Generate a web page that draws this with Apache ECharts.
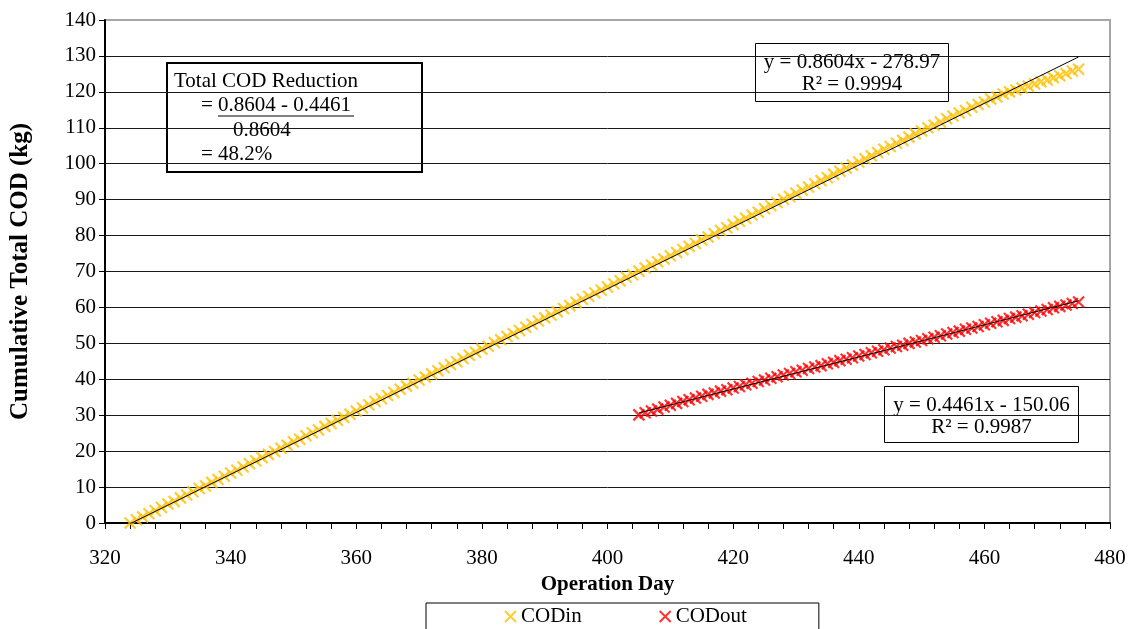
<!DOCTYPE html>
<html>
<head>
<meta charset="utf-8">
<script src="https://cdn.jsdelivr.net/npm/echarts@6/dist/echarts.min.js"></script>
<style>
html,body{margin:0;padding:0;background:#fff;}
#chart{width:1132px;height:629px;}
</style>
</head>
<body>
<div id="chart"></div>
<script>
// ---- Data ----
const codInStartDay = 324;
const codInValues = [
  0.0, 0.9, 1.7, 2.6, 3.4, 4.3, 5.3, 6.0, 7.0, 7.8,
  8.7, 9.6, 10.3, 11.3, 12.1, 13.0, 13.9, 14.7, 15.6, 16.5,
  17.3, 18.2, 19.1, 19.9, 20.8, 21.6, 22.6, 23.3, 24.3, 25.1,
  25.9, 26.9, 27.7, 28.6, 29.4, 30.3, 31.2, 32.0, 32.9, 33.8,
  34.6, 35.5, 36.3, 37.2, 38.1, 38.9, 39.8, 40.6, 41.5, 42.4,
  43.2, 44.1, 44.9, 45.8, 46.7, 47.5, 48.4, 49.2, 50.2, 51.0,
  51.9, 52.7, 53.6, 54.5, 55.3, 56.2, 57.1, 57.9, 58.8, 59.7,
  60.5, 61.4, 62.3, 63.1, 64.0, 64.8, 65.7, 66.6, 67.4, 68.4,
  69.1, 70.1, 71.0, 71.8, 72.7, 73.5, 74.4, 75.3, 76.1, 77.0,
  77.8, 78.8, 79.6, 80.5, 81.4, 82.2, 83.1, 84.0, 84.8, 85.7,
  86.5, 87.5, 88.3, 89.2, 90.1, 90.9, 91.8, 92.7, 93.5, 94.4,
  95.3, 96.1, 97.1, 97.9, 98.8, 99.6, 100.5, 101.4, 102.2, 103.1,
  104.0, 104.8, 105.7, 106.5, 107.4, 108.3, 109.1, 110.0, 110.7, 111.6,
  112.5, 113.3, 114.1, 114.8, 115.7, 116.5, 117.2, 118.0, 118.6, 119.4,
  120.0, 120.5, 121.1, 121.6, 122.2, 122.8, 123.3, 123.9, 124.5, 125.1,
  125.8, 126.3
];
const codOutStartDay = 405;
const codOutValues = [
  30.1, 30.7, 31.2, 31.7, 32.3, 32.8, 33.3, 33.8, 34.3, 34.8,
  35.3, 35.8, 36.2, 36.7, 37.1, 37.6, 38.0, 38.5, 38.9, 39.4,
  39.8, 40.3, 40.7, 41.2, 41.6, 42.1, 42.5, 43.0, 43.4, 43.8,
  44.3, 44.7, 45.2, 45.6, 46.0, 46.5, 46.9, 47.4, 47.8, 48.2,
  48.7, 49.1, 49.5, 50.0, 50.4, 50.8, 51.3, 51.7, 52.1, 52.6,
  53.0, 53.4, 53.9, 54.3, 54.7, 55.2, 55.6, 56.0, 56.4, 56.9,
  57.3, 57.7, 58.1, 58.6, 59.0, 59.4, 59.9, 60.3, 60.7, 61.1,
  61.5
];
const trendIn = [0.8604, -278.97];   // slope, intercept
const trendOut = [0.4461, -150.06];
const seriesNames = ['CODin', 'CODout'];
const eqInText = ['y = 0.8604x - 278.97', 'R² = 0.9994'];
const eqOutText = ['y = 0.4461x - 150.06', 'R² = 0.9987'];
const reductionText = ['Total COD Reduction', '= ', '0.8604 - 0.4461', '0.8604', '= 48.2%'];
const xTickLabels = [320, 340, 360, 380, 400, 420, 440, 460, 480];

// ---- Build ----
const toPairs = (start, vals) => vals.map((v, i) => [start + i, v]);
const inPts = toPairs(codInStartDay, codInValues);
const outPts = toPairs(codOutStartDay, codOutValues);
const trendPts = (pts, t) => {
  const x0 = pts[0][0], x1 = pts[pts.length - 1][0];
  return [[x0, t[0] * x0 + t[1]], [x1, t[0] * x1 + t[1]]];
};

const FONT = '"Liberation Serif", "Times New Roman", serif';
const XPATH = 'path://M0,0L10,10M10,0L0,10';
const YEL = '#FFC000', RED = '#FF0000';
const FS = 21;

const chart = echarts.init(document.getElementById('chart'), null, {renderer: 'canvas'});

const eqBox = (left, top, w, h, lines) => ({
  type: 'group', left: left, top: top,
  children: [
    {type: 'rect', shape: {x: 0, y: 0, width: w, height: h},
     style: {fill: '#fff', stroke: '#000', lineWidth: 1}},
    {type: 'text', x: w / 2, y: 19, style: {text: lines[0], font: FS + 'px ' + FONT, fill: '#000', align: 'center', verticalAlign: 'middle'}},
    {type: 'text', x: w / 2, y: 41, style: {text: lines[1], font: FS + 'px ' + FONT, fill: '#000', align: 'center', verticalAlign: 'middle'}}
  ]
});

chart.setOption({
  animation: false,
  backgroundColor: '#fff',
  grid: {left: 105, right: 22, top: 20, bottom: 106, show: true, borderColor: '#a6a6a6', borderWidth: 2, backgroundColor: 'transparent'},
  xAxis: {
    type: 'value', min: 320, max: 480, interval: 4,
    name: 'Operation Day', nameLocation: 'middle', nameGap: 50,
    nameTextStyle: {fontFamily: FONT, fontSize: FS, fontWeight: 'bold', color: '#000'},
    axisLine: {show: true, onZero: false, lineStyle: {color: '#000', width: 2}},
    axisTick: {show: true, length: 6, lineStyle: {color: '#000', width: 1}},
    axisLabel: {
      fontFamily: FONT, fontSize: FS, color: '#000', margin: 25,
      formatter: v => (xTickLabels.indexOf(v) >= 0 ? String(v) : ''),
      showMinLabel: true, showMaxLabel: true, hideOverlap: false
    },
    splitLine: {show: false}
  },
  yAxis: {
    type: 'value', min: 0, max: 140, interval: 10,
    name: 'Cumulative Total COD (kg)', nameLocation: 'middle', nameGap: 72,
    nameTextStyle: {fontFamily: FONT, fontSize: 25, fontWeight: 'bold', color: '#000'},
    axisLine: {show: true, onZero: false, lineStyle: {color: '#000', width: 2}},
    axisTick: {show: true, length: 6, lineStyle: {color: '#000', width: 1}},
    axisLabel: {fontFamily: FONT, fontSize: FS, color: '#000', margin: 9},
    splitLine: {show: true, showMinLine: false, showMaxLine: false, lineStyle: {color: '#1a1a1a', width: 1}}
  },
  legend: {
    show: true, bottom: -12, left: 426,
    padding: [3, 72, 14, 78], itemGap: 77,
    borderColor: '#000', borderWidth: 1, backgroundColor: '#fff',
    itemWidth: 11, itemHeight: 11,
    textStyle: {fontFamily: FONT, fontSize: FS, color: '#000'},
    data: [
      {name: seriesNames[0], icon: XPATH, itemStyle: {color: 'transparent', borderColor: YEL, borderWidth: 2}},
      {name: seriesNames[1], icon: XPATH, itemStyle: {color: 'transparent', borderColor: RED, borderWidth: 2}}
    ]
  },
  series: [
    {
      name: seriesNames[0], type: 'scatter', data: inPts,
      symbol: XPATH, symbolSize: 11,
      itemStyle: {color: 'transparent', borderColor: YEL, borderWidth: 2.2},
      z: 2
    },
    {
      name: seriesNames[1], type: 'scatter', data: outPts,
      symbol: XPATH, symbolSize: 11,
      itemStyle: {color: 'transparent', borderColor: RED, borderWidth: 2.2},
      z: 2
    },
    {
      name: 'trendIn', type: 'line', data: trendPts(inPts, trendIn),
      showSymbol: false, symbol: 'none', clip: true,
      lineStyle: {color: '#000', width: 1}, z: 3, silent: true
    },
    {
      name: 'trendOut', type: 'line', data: trendPts(outPts, trendOut),
      showSymbol: false, symbol: 'none', clip: true,
      lineStyle: {color: '#000', width: 1}, z: 3, silent: true
    }
  ],
  graphic: [
    eqBox(755, 43, 193, 58, eqInText),
    eqBox(884, 386, 194, 56, eqOutText),
    {
      type: 'group', left: 166, top: 62,
      children: [
        {type: 'rect', shape: {x: 0, y: 0, width: 255, height: 109},
         style: {fill: '#fff', stroke: '#000', lineWidth: 2}},
        {type: 'text', x: 7, y: 18, style: {text: reductionText[0], font: FS + 'px ' + FONT, fill: '#000', verticalAlign: 'middle'}},
        {type: 'text', x: 34, y: 42, style: {text: reductionText[1], font: FS + 'px ' + FONT, fill: '#000', verticalAlign: 'middle'}},
        {type: 'text', x: 51, y: 42, style: {text: reductionText[2], font: FS + 'px ' + FONT, fill: '#000', verticalAlign: 'middle'}},
        {type: 'line', shape: {x1: 51, y1: 53, x2: 187, y2: 53}, style: {stroke: '#000', lineWidth: 1}},
        {type: 'text', x: 66, y: 67, style: {text: reductionText[3], font: FS + 'px ' + FONT, fill: '#000', verticalAlign: 'middle'}},
        {type: 'text', x: 34, y: 91, style: {text: reductionText[4], font: FS + 'px ' + FONT, fill: '#000', verticalAlign: 'middle'}}
      ]
    }
  ]
});
</script>
</body>
</html>
